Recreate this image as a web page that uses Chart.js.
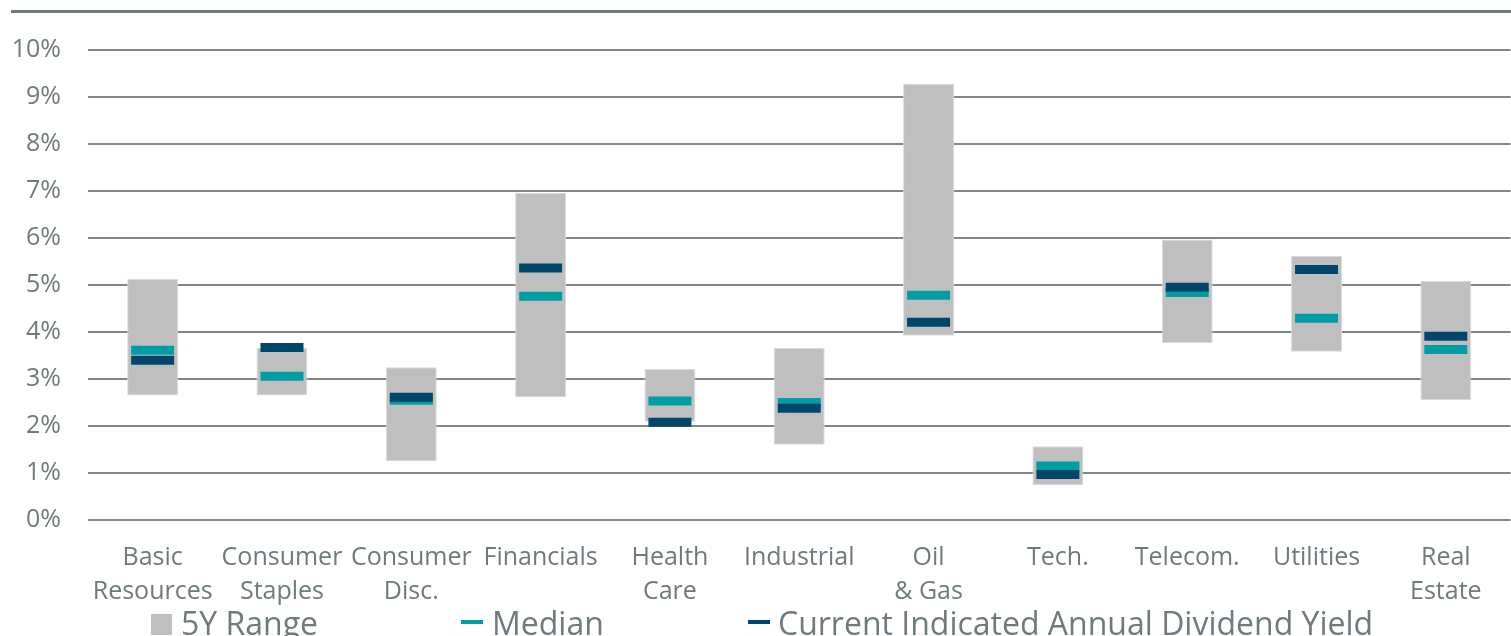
<!DOCTYPE html>
<html>
<head>
<meta charset="utf-8">
<script src="https://cdn.jsdelivr.net/npm/chart.js@4"></script>
<style>
  body { margin: 0; width: 1511px; height: 636px; overflow: hidden; background: #fff; font-family: 'Open Sans', sans-serif; }
  /* a little wider than the window: the markers' overflow padding falls outside the view */
  #wrap { position: absolute; left: 0; top: 0; width: 1541px; height: 636px; }
  #topline { position: absolute; left: 11px; top: 10px; width: 1500px; height: 3px; background: #6f7a7a; }
  .lg { position: absolute; top: 601px; font-size: 32px; line-height: 44px; color: #6f7b7b; white-space: nowrap; }
  .sw { position: absolute; }
</style>
</head>
<body>
<div id="wrap"><canvas id="yieldChart"></canvas></div>
<div id="topline"></div>
<!-- legend, placed like the original -->
<div class="sw" style="left:151px;top:614px;width:21px;height:21px;background:#bfbfbf"></div>
<div class="lg" style="left:181px">5Y Range</div>
<div class="sw" style="left:461px;top:620px;width:22px;height:4px;background:#009ea3"></div>
<div class="lg" style="left:492px">Median</div>
<div class="sw" style="left:748px;top:620px;width:22px;height:4px;background:#00466b"></div>
<div class="lg" style="left:778px">Current Indicated Annual Dividend Yield</div>
<script>
const sectors = [
    ['Basic', 'Resources'], ['Consumer', 'Staples'], ['Consumer', 'Disc.'], ['Financials'],
    ['Health', 'Care'], ['Industrial'], ['Oil', '& Gas'], ['Tech.'], ['Telecom.'],
    ['Utilities'], ['Real', 'Estate']
];
// 5Y range, in %
const rangeLow  = [2.65, 2.65, 1.25, 2.61, 2.09, 1.60, 3.92, 0.74, 3.76, 3.58, 2.55];
const rangeHigh = [5.13, 3.66, 3.25, 6.96, 3.22, 3.66, 9.28, 1.57, 5.97, 5.62, 5.09];
const median    = [3.61, 3.06, 2.55, 4.76, 2.53, 2.50, 4.78, 1.15, 4.84, 4.29, 3.63];
const current   = [3.40, 3.67, 2.61, 5.36, 2.08, 2.38, 4.21, 0.97, 4.95, 5.33, 3.91];
const yMin = 0, yMax = 10, yStep = 1;

const textColor = '#6f7b7b';
const gridColor = '#7d8888';

const ctx = document.getElementById('yieldChart').getContext('2d');

const markerStyle = {
    type: 'line',
    showLine: false,
    pointStyle: 'line',
    pointRadius: 21.5,
    pointHoverRadius: 21.5,
    pointBorderWidth: 9,
    pointHoverBorderWidth: 9
};

const chartConfig = {
    type: 'bar',
    data: {
        labels: sectors,
        datasets: [
            {
                ...markerStyle,
                label: 'Current Indicated Annual Dividend Yield',
                data: current,
                pointBorderColor: '#00466b',
                pointBackgroundColor: '#00466b',
                order: 1
            },
            {
                ...markerStyle,
                label: 'Median',
                data: median,
                pointBorderColor: '#009ea3',
                pointBackgroundColor: '#009ea3',
                order: 2
            },
            {
                type: 'bar',
                label: '5Y Range',
                data: rangeLow.map((lo, i) => [lo, rangeHigh[i]]),
                backgroundColor: '#bfbfbf',
                borderColor: '#dadada',
                borderWidth: 1,
                borderSkipped: false,
                categoryPercentage: 1,
                barPercentage: 0.394,
                order: 3
            }
        ]
    },
    options: {
        responsive: true,
        maintainAspectRatio: false,
        animation: false,
        layout: { padding: { top: 50, left: 0, right: 0, bottom: 0 } },
        plugins: {
            legend: { display: false },
            tooltip: { enabled: false }
        },
        scales: {
            x: {
                afterFit: s => { s.height = 116; },
                grid: { display: false, drawTicks: false },
                border: { display: false },
                ticks: {
                    color: textColor,
                    padding: 21,
                    maxRotation: 0,
                    autoSkip: false,
                    font: { family: 'Open Sans', size: 25, lineHeight: 1.36 }
                }
            },
            y: {
                min: yMin,
                max: yMax,
                afterFit: s => { s.width = 88; },
                grid: { color: gridColor, lineWidth: 2, drawTicks: false },
                border: { display: false },
                ticks: {
                    stepSize: yStep,
                    color: textColor,
                    padding: 27,
                    font: { family: 'Open Sans', size: 25 },
                    callback: v => v + '%'
                }
            }
        }
    }
};

const yieldChart = new Chart(ctx, chartConfig);
</script>
</body>
</html>
